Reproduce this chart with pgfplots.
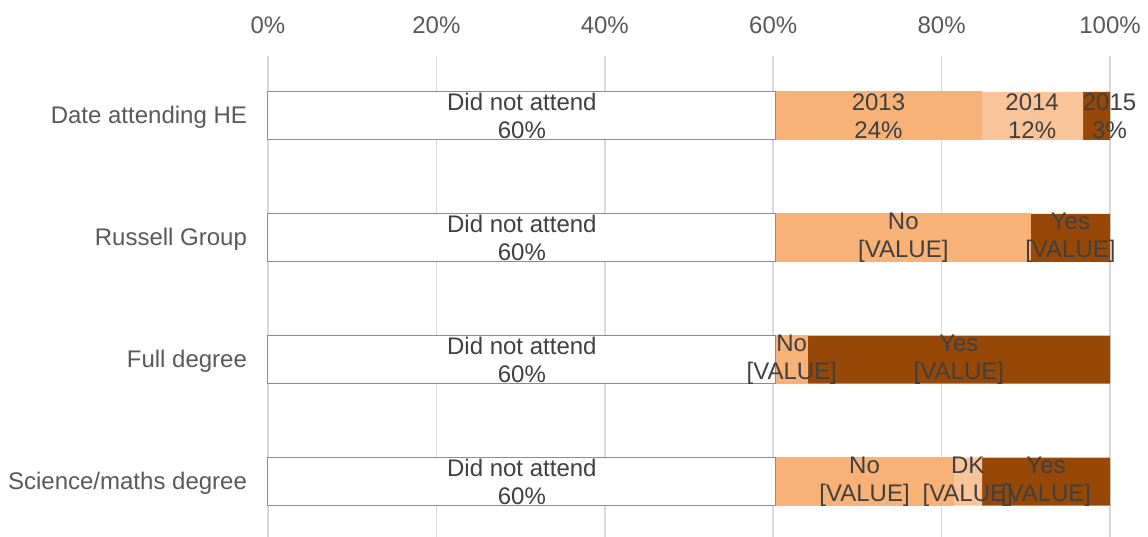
\documentclass[border=0pt]{standalone}
\usepackage{pgfplots}
\pgfplotsset{compat=1.18}
\usepackage{fontspec}
\setmainfont{Liberation Sans}
\definecolor{barA}{HTML}{F8B278}
\definecolor{barB}{HTML}{F9C49A}
\definecolor{barC}{HTML}{974706}
\definecolor{gridc}{HTML}{D9D9D9}
\definecolor{tickc}{HTML}{595959}
\definecolor{labc}{HTML}{404040}
\begin{document}
\begin{tikzpicture}
\begin{axis}[
    name=ax,
    scale only axis,
    width=421pt, height=240.3pt,
    xmin=0, xmax=100,
    ymin=-0.49, ymax=3.45,
    y dir=reverse,
    xbar stacked,
    bar width=24pt,
    axis line style={draw=none},
    major tick length=0pt,
    xtick={0,20,...,100},
    xticklabels={0\%,20\%,40\%,60\%,80\%,100\%},
    xticklabel pos=right,
    xticklabel style={yshift=7.5pt},
    ytick={0,1,2,3},
    yticklabels={Date attending HE,Russell Group,Full degree,Science/maths degree},
    yticklabel style={xshift=-7pt, yshift=-1pt},
    ticklabel style={font=\fontsize{12}{14}\selectfont, text=tickc},
    xmajorgrids,
    grid style={gridc, line width=0.75pt},
    clip=false,
    point meta=explicit symbolic,
    nodes near coords,
    every node near coord/.style={anchor=center, align=center, text=labc,
        font=\fontsize{12}{14}\selectfont, inner sep=0pt},
]
% Did not attend
\addplot[fill=white, draw=gray!90, line width=0.5pt] coordinates {
 (60.3,0) [Did not attend\\60\%]
 (60.3,1) [Did not attend\\60\%]
 (60.3,2) [Did not attend\\60\%]
 (60.3,3) [Did not attend\\60\%]
};
% 2013 / No
\addplot[fill=barA, draw=barA] coordinates {
 (24.4,0) [2013\\24\%]
 (30.3,1) [No\\{[VALUE]}]
 (3.8,2) [No\\{[VALUE]}]
 (21.1,3) [No\\{[VALUE]}]
};
% 2014 / DK
\addplot[fill=barB, draw=none] coordinates {
 (12.1,0) [2014\\12\%]
 (0,1) []
 (0,2) []
 (3.4,3) [DK\\{[VALUE]}]
};
% 2015 / Yes
\addplot[fill=barC, draw=none] coordinates {
 (3.2,0) [\hspace*{13pt}2015\\\hspace*{13pt}3\%]
 (9.4,1) [Yes\\{[VALUE]}]
 (35.9,2) [Yes\\{[VALUE]}]
 (15.2,3) [Yes\\{[VALUE]}]
};
\end{axis}
\pgfresetboundingbox
\path ([xshift=-134pt]ax.south west) rectangle ([xshift=19pt,yshift=28pt]ax.north east);
\end{tikzpicture}
\end{document}
